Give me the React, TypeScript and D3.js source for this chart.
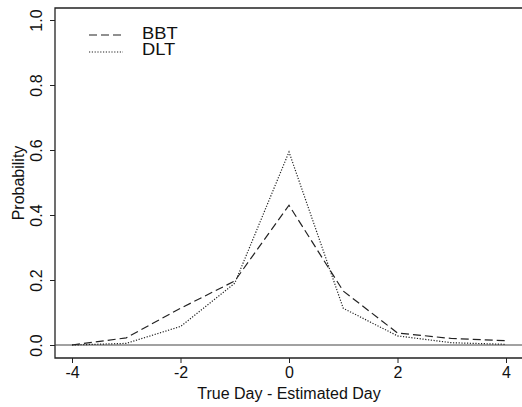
import React, { useEffect, useRef } from 'react';
import * as d3 from 'd3';

const days = [-4, -3, -2, -1, 0, 1, 2, 3, 4];
const bbt = [0.0, 0.022, 0.113, 0.197, 0.43, 0.166, 0.037, 0.02, 0.013];
const dlt = [0.0, 0.005, 0.057, 0.19, 0.594, 0.113, 0.028, 0.007, 0.002];
const xTicks = [-4, -2, 0, 2, 4];
const yTicks = [0, 0.2, 0.4, 0.6, 0.8, 1.0];
const seriesNames = ['BBT', 'DLT'];

const W = 522;
const H = 407;

const draw = (node: SVGSVGElement) => {
    const svg = d3.select(node);
    svg.selectAll('*').remove();

    const box = { left: 55, right: 523, top: 8, bottom: 358 };
    const font = 'Liberation Sans, Arial, Helvetica, sans-serif';

    const x = d3.scaleLinear().domain([-4, 4]).range([72, 506]);
    const y = d3.scaleLinear().domain([0, 1]).range([345, 20]);

    // frame (left, top, bottom)
    svg.append('path')
        .attr('d', `M${box.right},${box.top}H${box.left}V${box.bottom}H${box.right}`)
        .attr('fill', 'none')
        .attr('stroke', '#222')
        .attr('stroke-width', 1.3);

    // zero reference line
    svg.append('line')
        .attr('x1', box.left).attr('x2', box.right)
        .attr('y1', y(0)).attr('y2', y(0))
        .attr('stroke', '#444')
        .attr('stroke-width', 1.1);

    // y axis
    const yAxis = d3.axisLeft(y).tickValues(yTicks).tickSize(5).tickFormat(d3.format('.1f'));
    const gy = svg.append('g').attr('transform', `translate(${box.left},0)`).call(yAxis);
    gy.select('.domain').remove();
    gy.selectAll('line').attr('stroke', '#222');
    gy.selectAll('text')
        .attr('font-family', font)
        .attr('font-size', 16)
        .attr('fill', '#111')
        .attr('x', null)
        .attr('dy', null)
        .attr('y', 0)
        .style('text-anchor', 'middle')
        .attr('transform', 'translate(-13,0) rotate(-90)');

    // x axis
    const xAxis = d3.axisBottom(x).tickValues(xTicks).tickSize(5).tickFormat(d => String(d));
    const gx = svg.append('g').attr('transform', `translate(0,${box.bottom})`).call(xAxis);
    gx.select('.domain').remove();
    gx.selectAll('line').attr('stroke', '#222');
    gx.selectAll('text')
        .attr('font-family', font)
        .attr('font-size', 16)
        .attr('fill', '#111')
        .attr('y', 9);

    // axis titles
    svg.append('text')
        .attr('x', (box.left + box.right) / 2)
        .attr('y', 399)
        .attr('text-anchor', 'middle')
        .attr('font-family', font)
        .attr('font-size', 16)
        .attr('fill', '#111')
        .text('True Day - Estimated Day');

    svg.append('text')
        .attr('transform', `translate(24,${(box.top + box.bottom) / 2}) rotate(-90)`)
        .attr('text-anchor', 'middle')
        .attr('font-family', font)
        .attr('font-size', 16)
        .attr('fill', '#111')
        .text('Probability');

    const line = d3.line<number>()
        .x((d, i) => x(days[i]))
        .y(d => y(d));

    const styles = [
        { data: bbt, dash: '8,4', width: 1.2, color: '#222' },
        { data: dlt, dash: '1.2,1.6', width: 1.2, color: '#222' },
    ];

    styles.forEach(s => {
        svg.append('path')
            .datum(s.data)
            .attr('d', line)
            .attr('fill', 'none')
            .attr('stroke', s.color)
            .attr('stroke-width', s.width)
            .attr('stroke-dasharray', s.dash);
    });

    // legend
    const lg = svg.append('g');
    seriesNames.forEach((name, i) => {
        const ly = 35 + i * 17;
        lg.append('line')
            .attr('x1', 89).attr('x2', 123)
            .attr('y1', ly).attr('y2', ly)
            .attr('stroke', styles[i].color)
            .attr('stroke-width', 1.1)
            .attr('stroke-dasharray', styles[i].dash);
        lg.append('text')
            .attr('x', 142)
            .attr('y', 39 + i * 16)
            .attr('font-family', font)
            .attr('font-size', 17)
            .attr('fill', '#111')
            .attr('transform', `translate(142,0) scale(1.08,1) translate(-142,0)`)
            .text(name);
    });
};

export default function App() {
    const ref = useRef<SVGSVGElement>(null);
    useEffect(() => {
        if (ref.current) draw(ref.current);
    }, []);
    return (
        <svg ref={ref} width={W} height={H}
            style={{ position: 'absolute', left: 0, top: 0, background: '#fff' }} />
    );
}
